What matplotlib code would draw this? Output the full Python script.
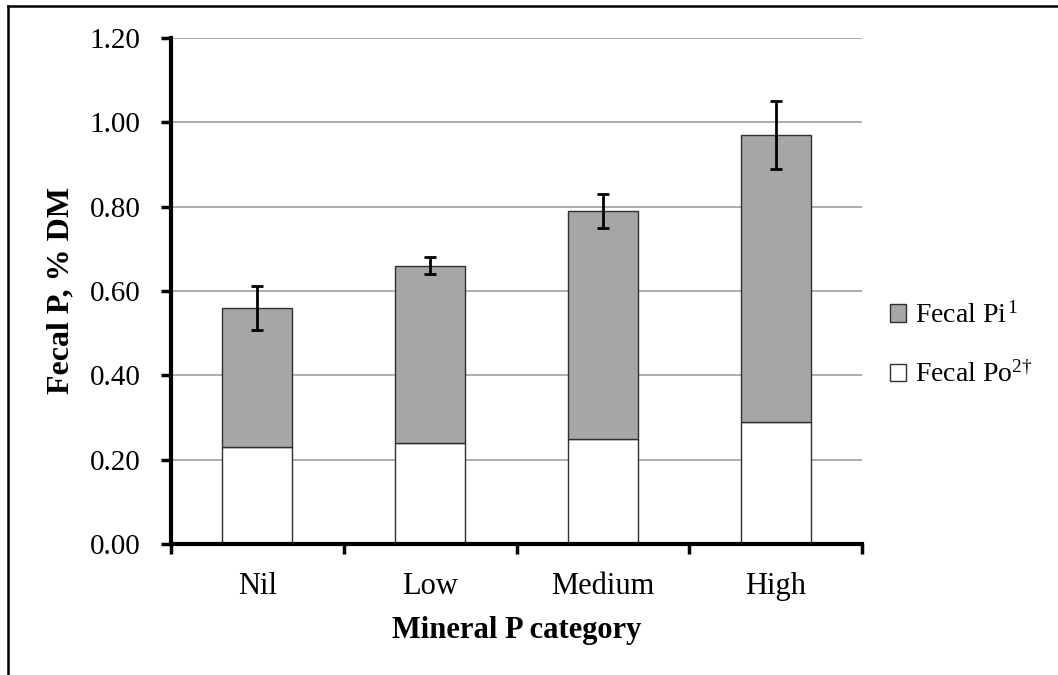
# Grafica de barras apiladas del fosforo fecal por categoria de fosforo mineral
import matplotlib
matplotlib.use("Agg")
import matplotlib.pyplot as plt
from matplotlib.lines import Line2D
import numpy as np

# Datos de la grafica
categorias = ["Nil", "Low", "Medium", "High"]
fecal_po = [0.23, 0.24, 0.25, 0.29]
fecal_pi = [0.33, 0.42, 0.54, 0.68]
error_total = [0.053, 0.02, 0.04, 0.08]
etiquetas_y = ["0.00", "0.20", "0.40", "0.60", "0.80", "1.00", "1.20"]

plt.rcParams["font.family"] = ["Liberation Serif", "DejaVu Serif"]
plt.rcParams["mathtext.fontset"] = "custom"
plt.rcParams["mathtext.rm"] = "Liberation Serif"
plt.rcParams["mathtext.it"] = "Liberation Serif:italic"
plt.rcParams["mathtext.bf"] = "Liberation Serif:bold"

fig = plt.figure(figsize=(10.58, 6.75), dpi=100)
ax = fig.add_axes([171 / 1058, 1 - 544 / 675, 691 / 1058, 506 / 675])

x = np.arange(len(categorias))
ancho = 0.405
total = np.array(fecal_po) + np.array(fecal_pi)

# Lineas de la cuadricula detras de las barras
ax.set_axisbelow(True)
ax.yaxis.grid(True, color="#a0a0a0", linewidth=1.2)

barras_po = ax.bar(x, fecal_po, ancho, color="white", edgecolor="#303030",
                   linewidth=1.0)
barras_pi = ax.bar(x, fecal_pi, ancho, bottom=fecal_po, color="#a6a6a6",
                   edgecolor="#303030", linewidth=1.0)
ax.errorbar(x, total, yerr=error_total, fmt="none", ecolor="black",
            elinewidth=2.0, capsize=4.5, capthick=2.0)

# Ejes
ax.set_xlim(-0.5, len(categorias) - 0.5)
ax.set_ylim(0, 1.2)
ax.set_yticks(np.arange(0, 1.21, 0.2))
ax.set_yticklabels(etiquetas_y)
ax.set_xticks(np.arange(-0.5, len(categorias)), minor=False)
ax.set_xticklabels([])
ax.set_xticks(x, minor=True)
ax.set_xticklabels(categorias, minor=True)
ax.tick_params(axis="x", which="major", direction="out", length=7, width=2.5)
ax.tick_params(axis="x", which="minor", length=0, pad=20, labelsize=22)
ax.tick_params(axis="y", direction="out", length=7, width=2.5, pad=15,
               labelsize=21)

for lado in ["top", "right"]:
    ax.spines[lado].set_visible(False)
ax.spines["left"].set_linewidth(3)
ax.spines["bottom"].set_linewidth(3)

ax.set_xlabel("Mineral P category", fontsize=22, fontweight="bold")
ax.xaxis.set_label_coords(0.5, -0.143)
ax.set_ylabel("Fecal P, % DM", fontsize=23, fontweight="bold")
ax.yaxis.set_label_coords(-0.138, 0.5)

ax.legend([barras_pi, barras_po], ["Fecal Pi$^{\\,1}$", "Fecal Po$^{2†}$"],
          loc="center left", bbox_to_anchor=(1.04, 0.393), frameon=False,
          fontsize=20, handlelength=0.6, handleheight=0.6,
          handletextpad=0.3, labelspacing=1.2, borderpad=0, borderaxespad=0)

# Marco exterior de la figura
fig.add_artist(Line2D([8 / 1058, 8 / 1058], [0, 1 - 6 / 675],
                      transform=fig.transFigure, color="black", linewidth=1.8))
fig.add_artist(Line2D([8 / 1058, 1], [1 - 6 / 675, 1 - 6 / 675],
                      transform=fig.transFigure, color="black", linewidth=1.8))

fig.savefig("out.png", dpi=100)
